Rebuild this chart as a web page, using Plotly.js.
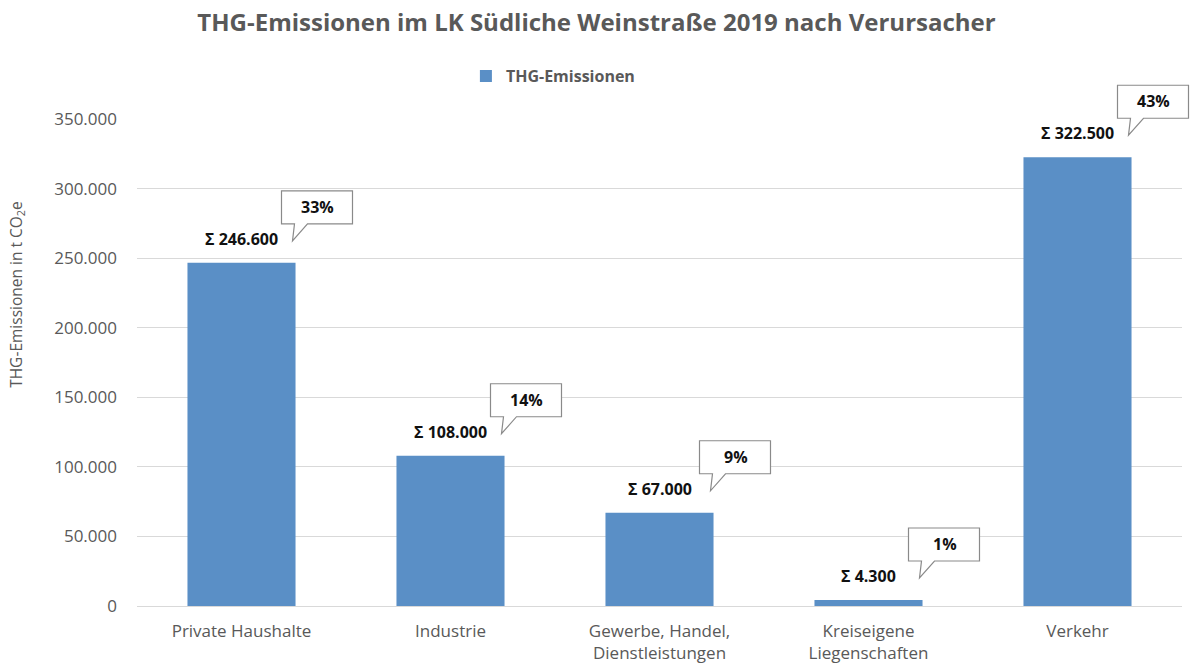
<!DOCTYPE html>
<html>
<head>
<meta charset="utf-8">
<script src="https://cdn.plot.ly/plotly-3.0.1.min.js"></script>
<style>html,body{margin:0;padding:0;background:#fff;}#chart{width:1193px;height:669px;}</style>
</head>
<body>
<div id="chart"></div>
<script>
const categories = ["Private Haushalte", "Industrie", "Gewerbe, Handel,<br>Dienstleistungen", "Kreiseigene<br>Liegenschaften", "Verkehr"];
const emissions = [246600, 108000, 67000, 4300, 322500];
const shares = ["33%", "14%", "9%", "1%", "43%"];
const yTicks = [0, 50000, 100000, 150000, 200000, 250000, 300000, 350000];
const yMax = 350000;

function fmt(v) {
  return String(v).replace(/\B(?=(\d{3})+(?!\d))/g, ".");
}

const FONT = "'Open Sans', 'Liberation Sans', sans-serif";
const BLUE = "#5a8fc6";
const GRAY = "#595959";

const trace = {
  type: "bar",
  x: categories,
  y: emissions,
  name: "THG-Emissionen",
  marker: {color: BLUE},
  width: 0.517,
  hoverinfo: "skip"
};

const annotations = [];
const shapes = [];
const n = categories.length;
categories.forEach((c, i) => {
  annotations.push({
    xref: "x", yref: "y", x: c, y: emissions[i],
    text: "<b>Σ " + fmt(emissions[i]) + "</b>",
    showarrow: false, yanchor: "bottom", yshift: 11,
    font: {family: FONT, size: 16, color: "#111"}
  });
  annotations.push({
    xref: "x", yref: "y", x: c, y: emissions[i],
    text: "<b>" + shares[i] + "</b>",
    showarrow: false, xanchor: "center", yanchor: "middle",
    xshift: 76, yshift: 56,
    font: {family: FONT, size: 16, color: "#111"}
  });
  shapes.push({
    type: "path",
    xref: "paper", yref: "paper",
    xsizemode: "pixel", ysizemode: "pixel",
    xanchor: (i + 0.5) / n, yanchor: emissions[i] / yMax,
    path: "M40,39 L53,39 L51,22 L66,39 L111,39 L111,72 L40,72 Z",
    fillcolor: "#ffffff",
    line: {color: "#8a8a8a", width: 1.2},
    layer: "above"
  });
});

annotations.push({
  xref: "paper", yref: "paper", x: -0.1148, y: 0.639,
  xanchor: "center", yanchor: "middle", textangle: -90, showarrow: false,
  text: "THG-Emissionen in t CO<sub>2</sub>e",
  font: {family: FONT, size: 15.5, color: GRAY}
});

const layout = {
  width: 1193, height: 669,
  margin: {l: 137, r: 11, t: 119, b: 63},
  paper_bgcolor: "#fff", plot_bgcolor: "#fff",
  separators: ",.",
  title: {
    text: "<b>THG-Emissionen im LK Südliche Weinstraße 2019 nach Verursacher</b>",
    font: {family: FONT, size: 24, color: GRAY},
    x: 0.5, xanchor: "center", xref: "container",
    y: 1 - 23/669, yanchor: "middle", yref: "container"
  },
  showlegend: true,
  legend: {
    orientation: "h", x: 0.398, xanchor: "center", y: 1.088, yanchor: "middle",
    font: {family: FONT, size: 16, color: GRAY, weight: "bold"},
    itemwidth: 30
  },
  xaxis: {
    type: "category", range: [-0.5, 4.5],
    showgrid: false, zeroline: false, showline: false, ticks: "",
    tickfont: {family: FONT, size: 17, color: GRAY},
    ticklabelstandoff: 13,
    fixedrange: true
  },
  yaxis: {
    range: [0, yMax], tickvals: yTicks, tickformat: ",",
    showgrid: true, gridcolor: "#d9d9d9", gridwidth: 1,
    zeroline: true, zerolinecolor: "#d9d9d9", zerolinewidth: 1,
    showline: false, ticks: "",
    tickfont: {family: FONT, size: 17, color: GRAY},
    ticklabelstandoff: 19,
    fixedrange: true
  },
  annotations: annotations,
  shapes: shapes,
  bargap: 0.483
};

Plotly.newPlot("chart", [trace], layout, {displayModeBar: false, staticPlot: true});
</script>
</body>
</html>
